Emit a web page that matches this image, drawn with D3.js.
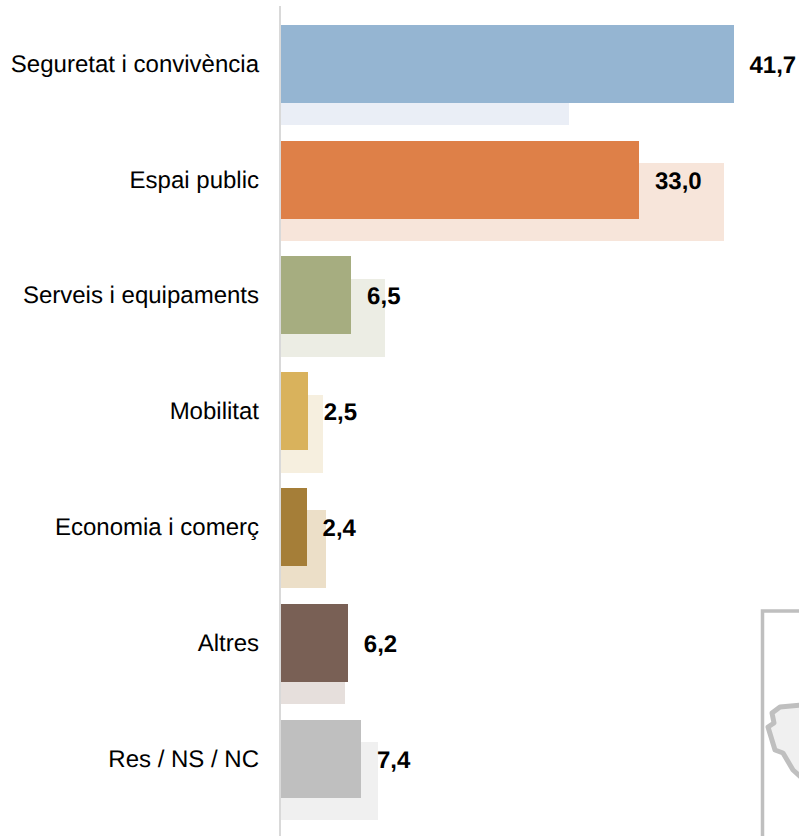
<!DOCTYPE html>
<html><head><meta charset="utf-8">
<script src="https://cdnjs.cloudflare.com/ajax/libs/d3/7.8.5/d3.min.js"></script>
<style>html,body{margin:0;padding:0;background:#fff}svg{display:block}text{font-family:"Liberation Sans",Arial,sans-serif;font-size:24px;fill:#000;text-rendering:geometricPrecision}</style>
</head><body><svg id="c" width="799" height="836"></svg>
<script>
const categories=["Seguretat i convivència","Espai public","Serveis i equipaments","Mobilitat","Economia i comerç","Altres","Res / NS / NC"];
const currentValues=[41.7,33.0,6.5,2.5,2.4,6.2,7.4];
const previousValues=[26.5,40.8,9.6,3.9,4.1,5.9,8.9];
const currentColors=["#95b5d2","#de8048","#a6ad80","#d9b25c","#a57e38","#796055","#bfbfbf"];
const previousColors=["#eaeef6","#f7e5da","#ecede4","#f6efdf","#ecdfc8","#e6dfdc","#f0f0f0"];
const mapOutline=[[803,705],[780,707],[772,713],[774,723],[768,727],[775,750],[783,753],[793,770],[803,779]];

const svg=d3.select("#c");
const x=d3.scaleLinear().domain([0,41.7]).range([281,734]);
const y=d3.scalePoint().domain(categories).range([25,720]);
const h=78,off=22;
const top0=d=>Math.round(y(d)-0.2);
const top1=d=>Math.round(y(d)+off);

// map inset
svg.append("path").attr("d",d3.line()(mapOutline)).attr("fill","#f0f0f0").attr("stroke","#bfbfbf").attr("stroke-width",5).attr("stroke-linejoin","round");
svg.append("path").attr("d",d3.line()([[762.5,840],[762.5,611],[803,611]])).attr("fill","none").attr("stroke","#bfbfbf").attr("stroke-width",3.5);

svg.selectAll("rect.prev").data(categories).join("rect").attr("class","prev")
 .attr("x",x(0)).attr("y",top1).attr("height",h)
 .attr("width",(d,i)=>Math.round(x(previousValues[i]))-x(0)).attr("fill",(d,i)=>previousColors[i]);
svg.selectAll("rect.cur").data(categories).join("rect").attr("class","cur")
 .attr("x",x(0)).attr("y",top0).attr("height",h)
 .attr("width",(d,i)=>Math.floor(x(currentValues[i]))-x(0)).attr("fill",(d,i)=>currentColors[i]);
svg.append("line").attr("x1",280).attr("x2",280).attr("y1",6).attr("y2",836).attr("stroke","#d9d9d9").attr("stroke-width",2);

svg.selectAll("text.cat").data(categories).join("text").attr("class","cat")
 .attr("x",259).attr("y",d=>top0(d)+47).attr("text-anchor","end").text(d=>d);
svg.selectAll("text.val").data(categories).join("text").attr("class","val")
 .attr("x",(d,i)=>x(currentValues[i])+15.5).attr("y",d=>top0(d)+48).style("font-weight","bold")
 .text((d,i)=>d3.format(".1f")(currentValues[i]).replace(".",","));
</script></body></html>
